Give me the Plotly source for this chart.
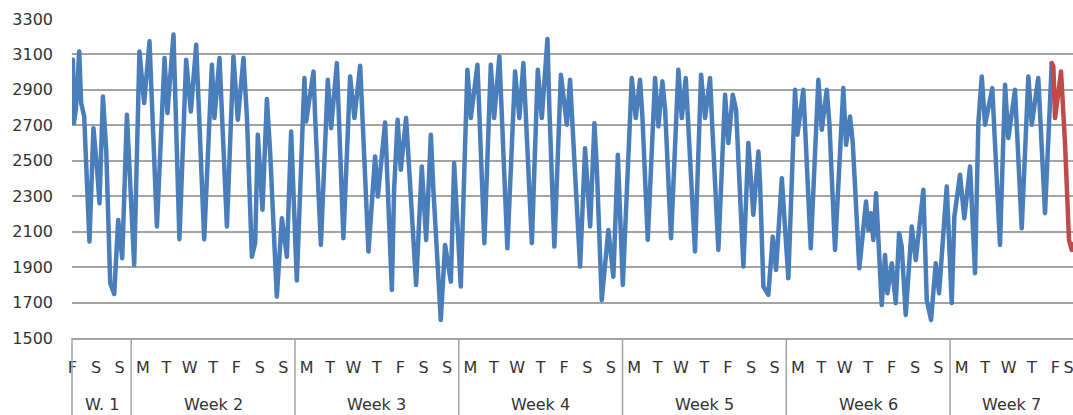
import plotly.graph_objects as go

# ---- data (hours counted from Friday 00:00 of week 1) ----
hours_actual = [
    12.2, 13.2, 15.3, 18.7, 20.7, 23.8, 29.2, 33.3, 36.8, 39.5,
    43.0, 46.4, 50.5, 54.6, 58.7, 62.8, 67.6, 75.1, 80.5, 85.3,
    90.8, 98.4, 106.2, 109.2, 115.4, 121.5, 128.4, 133.2, 138.7, 146.9,
    154.8, 157.4, 162.6, 170.2, 176.9, 181.4, 187.2, 190.7, 195.8, 199.2,
    201.9, 206.7, 211.2, 214.6, 221.4, 226.6, 231.7, 236.1, 241.9, 249.7,
    251.5, 259.0, 260.7, 266.6, 273.7, 277.1, 283.0, 289.7, 296.6, 301.0,
    306.9, 315.4, 322.2, 325.0, 332.5, 334.2, 339.4, 341.7, 345.3, 348.6,
    354.0, 356.4, 364.3, 370.1, 374.6, 379.4, 382.0, 389.6, 394.0, 399.9,
    403.3, 410.1, 416.9, 420.4, 427.2, 434.3, 440.9, 444.3, 449.7, 457.9,
    465.8, 470.2, 474.3, 483.0, 489.1, 493.2, 499.0, 501.0, 506.1, 512.8,
    518.9, 522.2, 524.6, 532.5, 537.6, 542.8, 547.2, 549.6, 554.7, 561.5,
    566.6, 571.2, 576.3, 585.5, 589.6, 594.0, 596.4, 601.9, 609.4, 612.8,
    616.9, 619.7, 625.8, 633.3, 636.8, 640.9, 650.4, 656.6, 660.7, 665.8,
    667.6, 674.3, 681.2, 684.6, 689.1, 692.5, 700.0, 705.1, 710.2, 715.4,
    717.1, 720.5, 725.6, 730.1, 733.5, 739.4, 746.1, 753.0, 755.4, 761.5,
    769.1, 776.9, 780.4, 785.5, 788.2, 794.0, 802.5, 805.3, 809.4, 812.2,
    818.9, 825.8, 828.2, 830.6, 833.3, 836.1, 841.9, 845.3, 847.7, 852.2,
    856.3, 859.7, 862.4, 866.5, 872.7, 876.8, 884.6, 888.1, 892.5, 897.3,
    900.7, 908.6, 913.7, 916.4, 922.2, 926.6, 932.5, 937.6, 941.0, 944.5,
    947.9, 955.3, 963.2, 968.4, 971.8, 978.6, 985.5, 992.3, 995.8, 1002.5,
    1009.4, 1016.3,
]
load_actual = [
    3070, 2712, 2790, 3117, 2826, 2750, 2044, 2684, 2468, 2260,
    2863, 2562, 1809, 1748, 2166, 1950, 2760, 1912, 3117, 2826,
    3174, 2129, 3080, 2769, 3212, 2057, 3070, 2778, 3155, 2057,
    3042, 2741, 3080, 2129, 3089, 2731, 3080, 2750, 1959, 2035,
    2647, 2223, 2848, 2543, 1733, 2176, 1959, 2665, 1824, 2967,
    2722, 3004, 2750, 2025, 2957, 2684, 3051, 2063, 2976, 2741,
    3036, 1988, 2524, 2298, 2716, 2468, 1771, 2336, 2731, 2449,
    2741, 2524, 1799, 2468, 2053, 2647, 2336, 1601, 2025, 1818,
    2487, 1790, 3014, 2741, 3042, 2035, 3042, 2741, 3089, 2006,
    3004, 2741, 3051, 2035, 3014, 2741, 3187, 2788, 2016, 2986,
    2703, 2957, 2694, 1903, 2571, 2129, 2712, 2468, 1714, 2110,
    1846, 2534, 1799, 2967, 2741, 2957, 2750, 2053, 2967, 2694,
    2948, 2788, 2063, 3014, 2741, 2967, 1988, 2986, 2741, 2967,
    2750, 1997, 2873, 2600, 2873, 2788, 1903, 2600, 2195, 2552,
    2370, 1790, 1743, 2072, 1884, 2402, 1837, 2901, 2647, 2901,
    2006, 2957, 2675, 2901, 2712, 1997, 2910, 2590, 2750, 2600,
    1893, 2270, 2110, 2204, 2053, 2317, 1686, 1969, 1752, 1922,
    1696, 2091, 2016, 1630, 2129, 1940, 2336, 1714, 1601, 1922,
    1752, 2355, 1696, 2185, 2421, 2176, 2468, 1865, 2712, 2976,
    2703, 2910, 2025, 2929, 2628, 2901, 2119, 2976, 2703, 2967,
    2204, 3051,
]
hours_forecast = [1016.3, 1017.9, 1019.7, 1025.8, 1029.9, 1034.0, 1036.8, 1038.4]
load_forecast = [3051, 3033, 2741, 3004, 2600, 2053, 1997, 2030]

day_letters = ["F", "S", "S"] + ["M", "T", "W", "T", "F", "S", "S"] * 5 + ["M", "T", "W", "T", "F", "S"]
week_labels = ["W. 1", "Week 2", "Week 3", "Week 4", "Week 5", "Week 6", "Week 7"]
week_bounds = [11.3, 72, 240, 408, 576, 744, 912, 1038.1]
y_ticks = list(range(1500, 3301, 200))

X_RANGE = [11.3, 1038.1]

# day label positions: centre of each day's visible span
day_pos = []
for i in range(len(day_letters)):
    lo = max(24 * i, X_RANGE[0])
    hi = min(24 * (i + 1), X_RANGE[1])
    day_pos.append(24 * i + 12 if (lo == 24 * i and hi == 24 * (i + 1)) else (lo + hi) / 2)
day_pos[0] = 11.6
day_pos[-1] = 1033.6

FONT = "DejaVu Sans"
TXT = "#333333"
GRID = "#a3a3a3"

fig = go.Figure()
fig.add_trace(go.Scatter(x=hours_actual, y=load_actual, mode="lines",
                         line=dict(color="#4a7ebb", width=4.5), showlegend=False))
fig.add_trace(go.Scatter(x=hours_forecast, y=load_forecast, mode="lines",
                         line=dict(color="#be4b48", width=4.5), showlegend=False))

shapes = []
for b in week_bounds[1:-1]:
    shapes.append(dict(type="line", xref="x", yref="paper", x0=b, x1=b, y0=0, y1=-0.26,
                       line=dict(color=GRID, width=1.5)))
shapes.append(dict(type="line", xref="paper", yref="paper", x0=0, x1=0, y0=0, y1=-0.26,
                   line=dict(color=GRID, width=1.5)))

annotations = []
for lab, a, b in zip(week_labels, week_bounds[:-1], week_bounds[1:]):
    annotations.append(dict(text=lab, x=(a + b) / 2, xref="x", y=-0.207, yref="paper",
                            xanchor="center", yanchor="middle", showarrow=False,
                            font=dict(family=FONT, size=16, color=TXT)))

fig.update_layout(
    width=1073, height=415,
    margin=dict(l=72, r=0, t=19, b=77, autoexpand=False),
    paper_bgcolor="white", plot_bgcolor="white",
    shapes=shapes, annotations=annotations,
    xaxis=dict(range=X_RANGE, tickmode="array", tickvals=day_pos, ticktext=day_letters,
               showgrid=False, zeroline=False, showline=True, linecolor=GRID, linewidth=1.5,
               ticks="", tickangle=0, ticklabelstandoff=14, automargin=False,
               ticklabeloverflow="allow",
               tickfont=dict(family=FONT, size=16, color=TXT)),
    yaxis=dict(range=[1500, 3300], tickmode="array", tickvals=y_ticks,
               showgrid=True, gridcolor=GRID, gridwidth=1.5, zeroline=False, showline=False,
               ticks="", ticklabelstandoff=18, automargin=False,
               tickfont=dict(family=FONT, size=16, color=TXT)),
)

# remove the page's default body margin / scrollbars so the figure fills the window exactly,
# and round the line joins like the original chart
post = (
    "document.body.style.margin='0';"
    "document.body.style.overflow='hidden';"
    "document.querySelectorAll('.scatterlayer .js-line').forEach(function(p){"
    "p.style.strokeLinejoin='round';p.style.strokeLinecap='round';});"
)
fig.write_html("out.html", post_script=post, config={"displayModeBar": False})
